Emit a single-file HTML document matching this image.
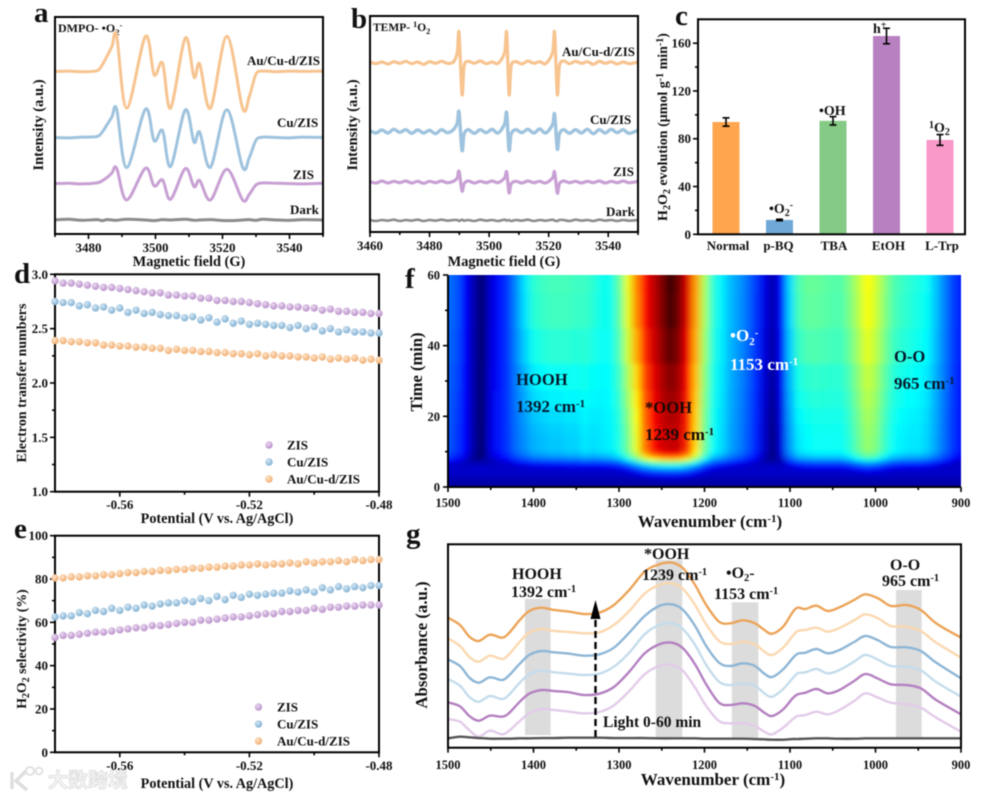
<!DOCTYPE html>
<html lang="en">
<head>
<meta charset="utf-8">
<title>EPR, H2O2 evolution and in situ IR figure</title>
<style>
html,body{margin:0;padding:0;background:#fff;width:987px;height:797px;overflow:hidden}
svg{display:block;filter:blur(0.4px)}
text{font-family:"Liberation Serif","Noto Serif CJK SC",serif;font-weight:bold;fill:#111}
</style>
</head>
<body>
<svg id="figure" width="987" height="797" viewBox="0 0 987 797" xmlns="http://www.w3.org/2000/svg">
<defs>
<radialGradient id="ball-purple" cx="38%" cy="35%" r="70%"><stop offset="0" stop-color="#eadcf0"/><stop offset="0.6" stop-color="#cba8d8"/><stop offset="1" stop-color="#b88fcb"/></radialGradient>
<radialGradient id="ball-blue" cx="38%" cy="35%" r="70%"><stop offset="0" stop-color="#d8e8f3"/><stop offset="0.6" stop-color="#9cc3df"/><stop offset="1" stop-color="#84b0d2"/></radialGradient>
<radialGradient id="ball-orange" cx="38%" cy="35%" r="70%"><stop offset="0" stop-color="#fde6cd"/><stop offset="0.6" stop-color="#f6c08e"/><stop offset="1" stop-color="#eeac70"/></radialGradient>
<clipPath id="heat-clip"><rect x="448" y="275" width="513" height="212"/></clipPath>
<filter id="heat-blur" x="-5%" y="-5%" width="110%" height="110%"><feGaussianBlur stdDeviation="3.4 2.4"/></filter>
</defs>

<g id="panel-a">
<text x="34" y="22" font-size="29">a</text>
<text x="58" y="32" font-size="12">DMPO- •O<tspan dy="3" font-size="8.5">2</tspan><tspan dy="-7" font-size="8.5">-</tspan></text>
<text x="247" y="65" font-size="13">Au/Cu-d/ZIS</text>
<text x="277" y="127" font-size="13">Cu/ZIS</text>
<text x="293" y="179" font-size="13">ZIS</text>
<text x="290" y="214" font-size="13">Dark</text>
<text x="189" y="266" font-size="14.4" text-anchor="middle">Magnetic field (G)</text>
<text transform="translate(43,125) rotate(-90)" font-size="14.6" text-anchor="middle">Intensity (a.u.)</text>
</g>

<g id="panel-b">
<text x="351" y="28" font-size="29">b</text>
<text x="373" y="31" font-size="11.5">TEMP- <tspan dy="-4" font-size="8.5">1</tspan><tspan dy="4">O</tspan><tspan dy="3" font-size="8.5">2</tspan></text>
<text x="562" y="56" font-size="13">Au/Cu-d/ZIS</text>
<text x="590" y="124" font-size="13">Cu/ZIS</text>
<text x="613" y="176" font-size="13">ZIS</text>
<text x="606" y="216" font-size="13">Dark</text>
<text x="504" y="266" font-size="14.4" text-anchor="middle">Magnetic field (G)</text>
<text transform="translate(357,125) rotate(-90)" font-size="14.6" text-anchor="middle">Intensity (a.u.)</text>
</g>

<g id="panel-c">
<text x="675" y="25" font-size="29">c</text>
<text transform="translate(667,127) rotate(-90)" font-size="14" text-anchor="middle">H<tspan dy="3" font-size="10">2</tspan><tspan dy="-3">O</tspan><tspan dy="3" font-size="10">2</tspan><tspan dy="-3"> evolution (μmol g</tspan><tspan dy="-4" font-size="10">-1</tspan><tspan dy="4"> min</tspan><tspan dy="-4" font-size="10">-1</tspan><tspan dy="4">)</tspan></text>
</g>

<g id="panel-d">
<text x="14" y="283" font-size="29">d</text>
<text transform="translate(26,383) rotate(-90)" font-size="14" text-anchor="middle">Electron transfer numbers</text>
<text x="217" y="523" font-size="14.2" text-anchor="middle">Potential (V vs. Ag/AgCl)</text>
</g>

<g id="panel-e">
<text x="14" y="538" font-size="29">e</text>
<text transform="translate(26,649) rotate(-90)" font-size="13.8" text-anchor="middle">H<tspan dy="3" font-size="10">2</tspan><tspan dy="-3">O</tspan><tspan dy="3" font-size="10">2</tspan><tspan dy="-3"> selectivity (%)</tspan></text>
<text x="217" y="788" font-size="14.2" text-anchor="middle">Potential (V vs. Ag/AgCl)</text>
</g>

<g id="panel-f">
<text x="405" y="288" font-size="29">f</text>
<text transform="translate(422,372) rotate(-90)" font-size="16.5" text-anchor="middle">Time (min)</text>
<text x="710" y="527" font-size="17" text-anchor="middle">Wavenumber (cm<tspan dy="-5" font-size="11">-1</tspan><tspan dy="5">)</tspan></text>
</g>

<g id="panel-g">
<text x="406" y="543" font-size="29">g</text>
<text transform="translate(427,645) rotate(-90)" font-size="16.8" text-anchor="middle">Absorbance (a.u.)</text>
<text x="713" y="785" font-size="17" text-anchor="middle">Wavenumber (cm<tspan dy="-5" font-size="11">-1</tspan><tspan dy="5">)</tspan></text>
</g>

<g id="panel-f-notes">
<text x="516" y="385" font-size="16.6" style="fill:#06182e">HOOH</text>
<text x="516" y="412" font-size="17" style="fill:#06182e">1392 cm<tspan dy="-5" font-size="11">-1</tspan></text>
<text x="645" y="413" font-size="16.6" style="fill:#1a0a04">*OOH</text>
<text x="645" y="440" font-size="17" style="fill:#1a0a04">1239 cm<tspan dy="-5" font-size="11">-1</tspan></text>
<text x="730" y="341" font-size="17" style="fill:#fff">•O<tspan dy="4" font-size="11">2</tspan><tspan dy="-9" font-size="11">-</tspan></text>
<text x="730" y="370" font-size="17" style="fill:#fff">1153 cm<tspan dy="-5" font-size="11">-1</tspan></text>
<text x="894" y="362" font-size="16.6" style="fill:#06182e">O-O</text>
<text x="894" y="389" font-size="17" style="fill:#06182e">965 cm<tspan dy="-5" font-size="11">-1</tspan></text>
</g>

<g id="watermark">
<path d="M12 772 L12 789 M26 771 L16 781 L27 790" fill="none" stroke="#dedede" stroke-width="3.4"/>
<circle cx="30" cy="771" r="4" fill="none" stroke="#dedede" stroke-width="1.8"/>
<circle cx="39" cy="771" r="3.4" fill="none" stroke="#dedede" stroke-width="1.8"/>
<text x="48" y="787" font-size="20" style="font-family:'Liberation Sans','Noto Sans CJK SC',sans-serif;font-weight:bold;fill:#f6f6f6;stroke:#d8d8d8;stroke-width:0.7">大数跨境</text>
</g>
</svg>

<script>
// ---------- panel a data ----------
const fieldA = [3470,3474,3478,3482.5,3484,3485.5,3487,3488.4,3491.4,3497,3499.6,3502.1,3504.5,3508.9,3511.5,3513.2,3516.4,3521.3,3526,3528,3530,3532,3536,3540,3544,3550];
const intensityAOrange = [0,1,-1,2,18,45,75,107,-110,105,-10,25,-110,100,-17,22,-110,105,-110,-75,-8,1,-1,1,0,1];
const intensityABlue = [0,-1,1,3,15,38,62,85,-90,85,-10,21,-87,83,-14,16,-89,83,-89,-60,-8,1,0,-1,1,0];
const intensityAPurple = [0,1,-1,2,8,18,32,46,-49,46,-7,11,-47,45,-9,9,-49,43,-49,-32,-4,2,1,0,-1,1];
const intensityADark = [0,2,-1,1,-2,1,0,-1,2,0,-2,1,0,2,-1,0,1,-2,0,1,-1,2,0,-1,1,0];
const offsetsA = [487,289,151,42];
const fieldTicksA = [3480,3500,3520,3540];
const fieldMinorA = [3470,3490,3510,3530,3550];

// ---------- panel b data ----------
const fieldB = [3460,3462,3464,3466,3468,3470,3472,3474,3476,3478,3480,3482,3484,3486,3488,3489.3,3489.9,3490.9,3491.6,3493,3495,3497,3499,3501,3503,3505.2,3505.9,3506.7,3507.4,3509,3511,3513,3515,3517,3519,3521.3,3522,3522.9,3523.6,3525,3527,3529,3531,3533,3535,3537,3539,3541,3543,3545,3547,3550];
const intensityBOrange = [2,-3,2,-4,3,-2,4,-3,2,-5,3,-2,4,-2,2,30,90,-95,-10,4,-2,5,-3,2,-2,30,90,-95,-10,3,-4,5,-2,3,-3,30,90,-95,-10,5,-3,4,-2,3,-5,4,-2,3,-4,2,-3,2];
const intensityBBlue = [2,-5,4,-5,6,-3,5,-6,4,-5,3,-7,5,-4,5,25,58,-57,-8,5,-6,5,-4,6,-5,22,55,-57,-8,5,-4,6,-5,7,-5,20,51,-53,-8,5,-6,5,-5,6,-7,5,-5,6,-4,5,-6,3];
const intensityBPurple = [1,-3,3,-3,2,-2,3,-3,2,-4,2,-2,3,-2,2,12,32,-27,-5,3,-3,2,-2,3,-2,12,30,-32,-5,2,-3,3,-2,2,-3,12,30,-33,-5,3,-2,2,-3,2,-2,3,-3,2,-2,3,-2,2];
const intensityBDark = [1,-2,1,-1,2,-2,1,-1,2,-2,1,-1,2,-1,1,1,-2,2,-1,1,-2,2,-1,1,-2,2,-1,1,-2,1,-1,2,-2,1,-1,2,-1,-2,1,1,-2,2,-1,1,-2,2,-1,1,-2,1,-1,1];
const offsetsB = [508,302,150,35];
const fieldTicksB = [3460,3480,3500,3520,3540];
const fieldMinorB = [3470,3490,3510,3530,3550];

// ---------- panel c data ----------
const scavengers = ['Normal','p-BQ','TBA','EtOH','L-Trp'];
const evolution = [94,12,95,166,79];
const evolutionError = [3.5,0.6,3.5,6.5,4.5];
const evolutionTicks = [0,40,80,120,160];
const evolutionMinor = [20,60,100,140];

// ---------- panels d, e data ----------
const potentials = [-0.58,-0.5775,-0.575,-0.5725,-0.57,-0.5675,-0.565,-0.5625,-0.56,-0.5575,-0.555,-0.5525,-0.55,-0.5475,-0.545,-0.5425,-0.54,-0.5375,-0.535,-0.5325,-0.53,-0.5275,-0.525,-0.5225,-0.52,-0.5175,-0.515,-0.5125,-0.51,-0.5075,-0.505,-0.5025,-0.5,-0.4975,-0.495,-0.4925,-0.49,-0.4875,-0.485,-0.4825,-0.48];
const electronsZis = [2.94,2.92,2.92,2.91,2.90,2.89,2.88,2.88,2.87,2.86,2.85,2.84,2.83,2.83,2.81,2.81,2.80,2.80,2.78,2.78,2.76,2.76,2.75,2.75,2.74,2.73,2.72,2.71,2.71,2.70,2.70,2.69,2.69,2.67,2.68,2.66,2.66,2.65,2.65,2.64,2.64];
const electronsCu = [2.75,2.74,2.74,2.71,2.72,2.69,2.70,2.67,2.69,2.65,2.67,2.64,2.65,2.63,2.62,2.62,2.60,2.61,2.58,2.60,2.56,2.59,2.55,2.57,2.54,2.55,2.54,2.53,2.53,2.51,2.53,2.50,2.52,2.48,2.50,2.47,2.49,2.47,2.47,2.46,2.46];
const electronsAu = [2.39,2.39,2.38,2.38,2.37,2.37,2.35,2.35,2.34,2.34,2.33,2.33,2.32,2.32,2.30,2.31,2.30,2.30,2.29,2.29,2.28,2.28,2.27,2.27,2.26,2.27,2.25,2.26,2.25,2.25,2.24,2.24,2.23,2.24,2.22,2.23,2.22,2.23,2.21,2.22,2.21];
const selectivityZis = [53,54,54,54.5,55,55.5,55.5,56,56.5,57,57.5,57.5,58.5,58.5,59,59.5,60,60,61,61,61.5,62,62.5,62.5,63,63.5,64,64,65,65,65.5,65.5,66.5,66,67,67,67.5,67.5,68,68,68];
const selectivityCu = [62.5,63,63,64.5,64,65.5,65,66.5,65.5,67,66.5,68,67.5,68.5,69,69,70,69.5,71,70,72,70.5,72.5,71.5,73,72.5,73,73.5,73.5,74.5,74,75,74,76,75,76.5,75.5,76.5,76,77,77];
const selectivityAu = [80.5,80.5,81,81,81.5,81.5,82,82,82.5,83,83,83.5,83.5,84,84,84.5,84.5,85,85,85.5,85.5,86,86,86.5,86.5,87,86.5,87,87,87.5,87,88,87.5,88,88,88.5,88,89,88.5,89,89];
const potentialTicks = [-0.56,-0.52,-0.48];
const potentialMinor = [-0.54,-0.5];
const electronTicks = [1.0,1.5,2.0,2.5,3.0];
const electronMinor = [1.25,1.75,2.25,2.75];
const selectivityTicks = [0,20,40,60,80,100];
const selectivityMinor = [10,30,50,70,90];
const legendNames = ['ZIS','Cu/ZIS','Au/Cu-d/ZIS'];

// ---------- panel f data ----------
const heatWavenumbers = [1500,1490,1480,1470,1460,1450,1440,1430,1420,1410,1400,1390,1380,1370,1360,1350,1340,1330,1320,1310,1300,1290,1280,1270,1260,1250,1240,1230,1220,1210,1200,1190,1180,1170,1160,1150,1140,1130,1120,1110,1100,1090,1080,1070,1060,1050,1040,1030,1020,1010,1000,990,980,970,960,950,940,930,920,910,900];
const heatSpectrumLate = [.22,.20,.12,.06,.02,.09,.13,.17,.25,.33,.40,.42,.43,.43,.43,.42,.42,.40,.37,.37,.46,.62,.76,.88,.95,1.02,1.09,1.03,.92,.74,.55,.40,.34,.29,.26,.22,.17,.10,.06,.13,.32,.44,.47,.47,.46,.45,.45,.50,.57,.65,.60,.52,.45,.42,.40,.38,.36,.30,.24,.18,.14];
const heatSpectrumEarly = [.20,.17,.12,.05,.02,.10,.14,.17,.22,.25,.28,.29,.30,.30,.31,.31,.33,.32,.33,.34,.38,.48,.62,.78,.88,.93,.95,.94,.85,.68,.48,.36,.32,.27,.24,.20,.15,.08,.03,.10,.26,.33,.35,.36,.36,.36,.36,.40,.47,.53,.50,.42,.36,.34,.33,.33,.31,.27,.22,.17,.13];
const heatTimes = [0,1,2,3,4,5,6,7,8,9,10,11,12,14,16,20,25,30,40,50,60];
const heatGrowth = [.02,.04,.07,.11,.17,.25,.36,.52,.74,.88,.96,1,1,1,1,1,1,1,1,1,1];
const heatBlend = [0,0,0,0,0,0,0,0,0,0,0,0,0,0,.05,.15,.30,.45,.75,.95,1];
const heatFloor = [.05,.05,.06,.07,.08,.08,.08,.06,.04,.02,0,0,0,0,0,0,0,0,0,0,0];
const timeTicks = [0,20,40,60];
const timeMinor = [10,30,50];
const wavenumberTicks = [1500,1400,1300,1200,1100,1000,900];
const wavenumberMinor = [1450,1350,1250,1150,1050,950];

// ---------- panel g data ----------
const wavenumbersG = [1500,1486,1475,1464,1451,1437,1429,1416,1405,1391,1376,1358,1341,1323,1306,1288,1270,1253,1238,1225,1211,1198,1183,1170,1155,1141,1130,1121,1108,1097,1091,1082,1069,1056,1043,1025,1012,997,982,964,947,929,900];
const absorbance60 = [390,368,333,320,339,330,343,383,410,420,413,408,401,405,428,473,528,550,555,538,488,428,378,373,382,373,353,342,363,406,420,416,426,410,420,443,460,448,425,428,413,373,330];
const absorbance50 = [328,305,272,258,276,266,279,318,345,356,350,347,343,346,368,410,462,488,493,476,428,370,320,311,318,310,288,278,300,335,350,353,360,348,358,382,400,388,365,363,350,315,270];
const absorbance40 = [265,245,210,195,211,203,216,252,278,290,286,282,276,280,300,345,395,425,430,413,365,305,255,245,253,245,222,212,235,268,282,285,296,283,292,317,335,322,302,301,290,255,208];
const absorbance30 = [206,186,152,138,155,146,158,195,220,231,226,222,218,222,243,285,340,368,373,355,308,248,198,188,193,186,163,153,176,208,223,226,236,223,232,258,278,264,245,243,232,197,153];
const absorbance20 = [136,124,95,81,96,93,103,138,162,173,170,166,158,162,182,228,283,310,315,298,250,190,135,128,133,125,105,95,115,148,160,165,176,163,172,200,221,207,190,188,178,143,100];
const absorbance10 = [86,78,52,33,51,40,50,80,103,116,113,108,103,107,127,170,220,245,248,230,180,125,80,73,73,65,48,40,60,85,95,98,108,100,112,140,163,150,135,130,120,90,48];
const absorbanceDark = [28,33,31,29,27,27,27,28,28,29,29,30,30,30,29,29,29,28,28,28,28,27,27,27,27,26,25,24,24,26,26,27,28,28,27,27,28,28,28,28,28,28,28];
const bandHigh = [1410,1257,1168,976];
const bandLow = [1380,1226,1137,946];
const bandTop = [446,563,436,473];
const bandBottom = [38,31,28,31];

// ---------- helpers ----------
const NS = 'http://www.w3.org/2000/svg';
function make(parent, tag, attrs, name) {
  const el = document.createElementNS(NS, tag);
  for (const key in attrs) el.setAttribute(key, attrs[key]);
  
  
  parent.appendChild(el);
  return el;
}
function linear(d0, d1, r0, r1) { return v => r0 + (v - d0) * (r1 - r0) / (d1 - d0); }
function smooth(xs, ys) {
  let d = 'M' + xs[0].toFixed(2) + ' ' + ys[0].toFixed(2);
  const n = xs.length;
  for (let i = 0; i < n - 1; i++) {
    const a = Math.max(i - 1, 0), b = Math.min(i + 2, n - 1);
    const c1x = xs[i] + (xs[i + 1] - xs[a]) / 6, c1y = ys[i] + (ys[i + 1] - ys[a]) / 6;
    const c2x = xs[i + 1] - (xs[b] - xs[i]) / 6, c2y = ys[i + 1] - (ys[b] - ys[i]) / 6;
    d += 'C' + c1x.toFixed(2) + ' ' + c1y.toFixed(2) + ' ' + c2x.toFixed(2) + ' ' + c2y.toFixed(2) + ' ' + xs[i + 1].toFixed(2) + ' ' + ys[i + 1].toFixed(2);
  }
  return d;
}
function frame(parent, x0, y0, x1, y1) {
  make(parent, 'rect', {x: x0, y: y0, width: x1 - x0, height: y1 - y0, fill: 'none', stroke: '#000', 'stroke-width': 2}, 'plot-frame');
}
function xTicks(parent, scale, values, baseY, len, name) {
  values.forEach(v => {
    const x = scale(v);
    make(parent, 'line', {x1: x, x2: x, y1: baseY, y2: baseY + len, stroke: '#000', 'stroke-width': 1.6}, name);
  });
}
function yTicks(parent, scale, values, baseX, len, name) {
  values.forEach(v => {
    const y = scale(v);
    make(parent, 'line', {x1: baseX, x2: baseX - len, y1: y, y2: y, stroke: '#000', 'stroke-width': 1.6}, name);
  });
}
function label(parent, x, y, str, size, anchor, name) {
  const el = make(parent, 'text', {x: x, y: y, 'font-size': size, 'text-anchor': anchor}, name);
  el.textContent = str;
  return el;
}
function trace(parent, xScale, yScale, xs, values, offset, color, width, name) {
  const px = xs.map(xScale);
  const py = values.map(v => yScale(v + offset));
  make(parent, 'path', {d: smooth(px, py), fill: 'none', stroke: color, 'stroke-width': width, 'stroke-linejoin': 'round'}, name);
}

// ---------- panel a ----------
(function () {
  const g = document.getElementById('panel-a');
  const x = linear(3470, 3550, 55, 323), y = linear(0, 650, 234, 17);
  trace(g, x, y, fieldA, intensityAOrange, offsetsA[0], '#f7c490', 3, 'line-au-cu-d-zis');
  trace(g, x, y, fieldA, intensityABlue, offsetsA[1], '#9fc3de', 3, 'line-cu-zis');
  trace(g, x, y, fieldA, intensityAPurple, offsetsA[2], '#c8a0d4', 3, 'line-zis');
  trace(g, x, y, fieldA, intensityADark, offsetsA[3], '#8c8c8c', 3, 'line-dark');
  frame(g, 55, 17, 323, 234);
  xTicks(g, x, fieldTicksA, 234, 5, 'x-tick-major');
  xTicks(g, x, fieldMinorA, 234, 3, 'x-tick-minor');
  fieldTicksA.forEach(v => label(g, x(v), 252, String(v), 13, 'middle', 'x-tick-label'));
})();

// ---------- panel b ----------
(function () {
  const g = document.getElementById('panel-b');
  const x = linear(3460, 3550, 370, 638), y = linear(0, 648, 232, 16);
  trace(g, x, y, fieldB, intensityBOrange, offsetsB[0], '#f7c490', 3.2, 'line-au-cu-d-zis');
  trace(g, x, y, fieldB, intensityBBlue, offsetsB[1], '#9fc3de', 3.4, 'line-cu-zis');
  trace(g, x, y, fieldB, intensityBPurple, offsetsB[2], '#c8a0d4', 3.2, 'line-zis');
  trace(g, x, y, fieldB, intensityBDark, offsetsB[3], '#8c8c8c', 2.6, 'line-dark');
  frame(g, 370, 16, 638, 232);
  xTicks(g, x, fieldTicksB, 232, 5, 'x-tick-major');
  xTicks(g, x, fieldMinorB, 232, 3, 'x-tick-minor');
  fieldTicksB.forEach(v => label(g, x(v), 250, String(v), 13, 'middle', 'x-tick-label'));
})();

// ---------- panel c ----------
(function () {
  const g = document.getElementById('panel-c');
  const y = linear(0, 180, 234.3, 19.3);
  const x = i => 726 + 53.5 * i;
  const barColors = ['#ffa64f', '#6fa9d8', '#85ca85', '#b781c1', '#f899c9'];
  scavengers.forEach((name, i) => {
    make(g, 'rect', {x: x(i) - 13.5, y: y(evolution[i]), width: 27, height: 234.3 - y(evolution[i]), fill: barColors[i]}, 'bar-' + name.toLowerCase());
    const top = y(evolution[i] + evolutionError[i]), bot = y(evolution[i] - evolutionError[i]);
    make(g, 'line', {x1: x(i), x2: x(i), y1: top, y2: bot, stroke: '#000', 'stroke-width': 1.6}, 'error-bar');
    make(g, 'line', {x1: x(i) - 3.5, x2: x(i) + 3.5, y1: top, y2: top, stroke: '#000', 'stroke-width': 1.6}, 'error-cap-top');
    make(g, 'line', {x1: x(i) - 3.5, x2: x(i) + 3.5, y1: bot, y2: bot, stroke: '#000', 'stroke-width': 1.6}, 'error-cap-bottom');
    label(g, x(i) + (i === 0 ? 2 : i === 1 ? -1 : i === 3 ? 2 : i === 4 ? 2 : 1), 250, name, 13, 'middle', 'x-tick-label');
  });
  frame(g, 698, 19.3, 965, 234.3);
  yTicks(g, y, evolutionTicks, 698, 5, 'y-tick-major');
  yTicks(g, y, evolutionMinor, 698, 3, 'y-tick-minor');
  evolutionTicks.forEach(v => label(g, 691, y(v) + 4.5, String(v), 13, 'end', 'y-tick-label'));
  const o2 = make(g, 'text', {x: 769, y: 213, 'font-size': 14}, 'superoxide-note');
  o2.innerHTML = '•O<tspan dy="3" font-size="10">2</tspan><tspan dy="-8" font-size="10">-</tspan>';
  label(g, 819, 115, '•OH', 14, 'start', 'hydroxyl-note');
  const h = make(g, 'text', {x: 873, y: 33, 'font-size': 14}, 'hole-note');
  h.innerHTML = 'h<tspan dy="-5" font-size="10">+</tspan>';
  const so = make(g, 'text', {x: 929, y: 132, 'font-size': 14}, 'singlet-oxygen-note');
  so.innerHTML = '<tspan dy="-4" font-size="10">1</tspan><tspan dy="4">O</tspan><tspan dy="3" font-size="10">2</tspan>';
})();

// ---------- panels d and e ----------
function scatterPanel(id, yMin, yMax, top, bottom, series, majors, minors, fmt, legendX, textX, legendY) {
  const g = document.getElementById(id);
  const x = linear(-0.58, -0.48, 55, 379), y = linear(yMin, yMax, bottom, top);
  const fills = ['url(#ball-purple)', 'url(#ball-blue)', 'url(#ball-orange)'];
  frame(g, 55, top, 379, bottom);
  xTicks(g, x, potentialTicks, bottom, 5, 'x-tick-major');
  xTicks(g, x, potentialMinor, bottom, 3, 'x-tick-minor');
  yTicks(g, y, majors, 55, 5, 'y-tick-major');
  yTicks(g, y, minors, 55, 3, 'y-tick-minor');
  potentialTicks.forEach(v => label(g, x(v), bottom + 17.5, v.toFixed(2), 13, 'middle', 'x-tick-label'));
  majors.forEach(v => label(g, 48, y(v) + 4.5, fmt(v), 13, 'end', 'y-tick-label'));
  series.forEach((vals, s) => {
    vals.forEach((v, i) => {
      make(g, 'circle', {cx: x(potentials[i]), cy: y(v), r: 3.7, fill: fills[s]}, 'point-' + legendNames[s].toLowerCase().replace(/\//g, '-'));
    });
    make(g, 'circle', {cx: legendX, cy: legendY[s], r: 3.7, fill: fills[s]}, 'legend-marker');
    label(g, textX, legendY[s] + 4.5, legendNames[s], 13, 'start', 'legend-entry');
  });
}
scatterPanel('panel-d', 1, 3, 274.3, 491.7, [electronsZis, electronsCu, electronsAu], electronTicks, electronMinor, v => v.toFixed(1), 269, 287, [445, 462, 479]);
scatterPanel('panel-e', 0, 100, 535.7, 752.3, [selectivityZis, selectivityCu, selectivityAu], selectivityTicks, selectivityMinor, v => String(v), 258.5, 277, [707, 724, 741]);

// ---------- panel f ----------
(function () {
  const g = document.getElementById('panel-f');
  const x = linear(1500, 900, 448, 961), y = linear(0, 60, 487, 275);
  const vStops = [0, .05, .12, .35, .5, .65, .89, 1, 1.1];
  const cStops = [[0,0,72],[0,0,160],[0,0,255],[0,255,255],[128,255,128],[255,255,0],[255,0,0],[144,0,0],[42,0,0]];
  function color(v) {
    v = Math.max(0, Math.min(1.1, v));
    let k = 0;
    while (k < vStops.length - 2 && v > vStops[k + 1]) k++;
    const t = (v - vStops[k]) / (vStops[k + 1] - vStops[k]);
    const c = cStops[k].map((a, j) => Math.round(a + (cStops[k + 1][j] - a) * t));
    return 'rgb(' + c.join(',') + ')';
  }
  const clip = make(g, 'g', {'clip-path': 'url(#heat-clip)'}, 'heatmap');
  const cells = make(clip, 'g', {filter: 'url(#heat-blur)'}, 'heatmap-cells');
  heatTimes.forEach((t, r) => {
    const t0 = r === 0 ? t - 6 : (heatTimes[r - 1] + t) / 2;
    const t1 = r === heatTimes.length - 1 ? t + 6 : (heatTimes[r + 1] + t) / 2;
    heatWavenumbers.forEach((wn, c) => {
      const w0 = c === 0 ? wn + 30 : wn + 5;
      const w1 = c === heatWavenumbers.length - 1 ? wn - 30 : wn - 5;
      const blended = heatSpectrumEarly[c] * (1 - heatBlend[r]) + heatSpectrumLate[c] * heatBlend[r];
      const v = Math.max(blended * heatGrowth[r], heatFloor[r]);
      make(cells, 'rect', {x: x(w0), y: y(t1), width: x(w1) - x(w0) + 0.5, height: y(t0) - y(t1) + 0.5, fill: color(v)}, 'heatmap-cell');
    });
  });
  make(g, 'line', {x1: 448, x2: 448, y1: 275, y2: 488, stroke: '#000', 'stroke-width': 2}, 'y-axis-line');
  make(g, 'line', {x1: 447, x2: 961, y1: 487, y2: 487, stroke: '#000', 'stroke-width': 2}, 'x-axis-line');
  xTicks(g, x, wavenumberTicks, 487, 5, 'x-tick-major');
  xTicks(g, x, wavenumberMinor, 487, 3, 'x-tick-minor');
  yTicks(g, y, timeTicks, 448, 5, 'y-tick-major');
  yTicks(g, y, timeMinor, 448, 3, 'y-tick-minor');
  wavenumberTicks.forEach(v => label(g, x(v), 507, String(v), 12.5, 'middle', 'x-tick-label'));
  timeTicks.forEach(v => label(g, 440, y(v) + 4.5, String(v), 12.5, 'end', 'y-tick-label'));
})();

// ---------- panel g ----------
(function () {
  const g = document.getElementById('panel-g');
  const x = linear(1500, 900, 448, 961), y = linear(0, 610, 747.7, 544.3);
  bandHigh.forEach((hi, i) => {
    make(g, 'rect', {x: x(hi), y: y(bandTop[i]), width: x(bandLow[i]) - x(hi), height: y(bandBottom[i]) - y(bandTop[i]), fill: '#dcdcdc'}, 'peak-band');
  });
  trace(g, x, y, wavenumbersG, absorbance10, 0, '#e3cbe9', 2.4, 'spectrum-10-min');
  trace(g, x, y, wavenumbersG, absorbance20, 0, '#b480c1', 2.4, 'spectrum-20-min');
  trace(g, x, y, wavenumbersG, absorbance30, 0, '#c4dcec', 2.4, 'spectrum-30-min');
  trace(g, x, y, wavenumbersG, absorbance40, 0, '#8eb6d6', 2.4, 'spectrum-40-min');
  trace(g, x, y, wavenumbersG, absorbance50, 0, '#fbd8b0', 2.4, 'spectrum-50-min');
  trace(g, x, y, wavenumbersG, absorbance60, 0, '#eca458', 2.4, 'spectrum-60-min');
  trace(g, x, y, wavenumbersG, absorbanceDark, 0, '#555555', 2.4, 'spectrum-dark');
  frame(g, 448, 544.3, 961, 747.7);
  xTicks(g, x, wavenumberTicks, 747.7, 5, 'x-tick-major');
  xTicks(g, x, wavenumberMinor, 747.7, 3, 'x-tick-minor');
  wavenumberTicks.forEach(v => label(g, x(v), 769, String(v), 12.5, 'middle', 'x-tick-label'));
  make(g, 'line', {x1: 595.5, x2: 595.5, y1: 737, y2: 619, stroke: '#000', 'stroke-width': 2.4, 'stroke-dasharray': '7 4'}, 'light-arrow-shaft');
  make(g, 'polygon', {points: '595.5,600 590.5,619 600.5,619', fill: '#000'}, 'light-arrow-head');
  label(g, 603, 727, 'Light 0-60 min', 15.5, 'start', 'light-arrow-label');
  label(g, 512, 579, 'HOOH', 16, 'start', 'hooh-label');
  const a = make(g, 'text', {x: 511, y: 597, 'font-size': 16}, 'hooh-wavenumber');
  a.innerHTML = '1392 cm<tspan dy="-5" font-size="10.5">-1</tspan>';
  label(g, 644, 559, '*OOH', 16, 'start', 'ooh-label');
  const b = make(g, 'text', {x: 642, y: 580, 'font-size': 16}, 'ooh-wavenumber');
  b.innerHTML = '1239 cm<tspan dy="-5" font-size="10.5">-1</tspan>';
  const c = make(g, 'text', {x: 726, y: 578, 'font-size': 16}, 'superoxide-label');
  c.innerHTML = '•O<tspan dy="3" font-size="10.5">2</tspan><tspan dy="-3">-</tspan>';
  const d = make(g, 'text', {x: 714, y: 599, 'font-size': 16}, 'superoxide-wavenumber');
  d.innerHTML = '1153 cm<tspan dy="-5" font-size="10.5">-1</tspan>';
  label(g, 890, 570, 'O-O', 16, 'start', 'oo-label');
  const e = make(g, 'text', {x: 882, y: 586, 'font-size': 16}, 'oo-wavenumber');
  e.innerHTML = '965 cm<tspan dy="-5" font-size="10.5">-1</tspan>';
})();
</script>
</body>
</html>
